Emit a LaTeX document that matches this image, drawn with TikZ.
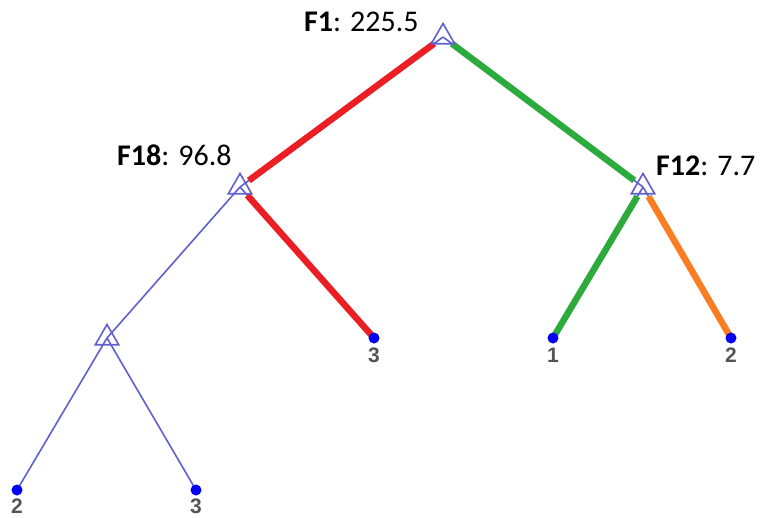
\documentclass[tikz,border=0pt]{standalone}
\usepackage{fontspec}
\setmainfont{Carlito}
\newfontfamily\leaffont{Liberation Sans}
\usetikzlibrary{shapes.geometric}
\definecolor{tblue}{RGB}{95,95,210}
\definecolor{tred}{RGB}{235,30,35}
\definecolor{tgreen}{RGB}{45,170,60}
\definecolor{torange}{RGB}{250,125,35}
\definecolor{dotblue}{RGB}{0,0,250}
\definecolor{leafgrey}{RGB}{85,85,85}
\begin{document}
\begin{tikzpicture}[x=1pt,y=-1pt,
  thin edge/.style={draw=tblue,line width=1.6pt},
  thick edge/.style={line width=6.5pt},
  split/.style={regular polygon,regular polygon sides=3,draw=tblue,line width=1.6pt,minimum size=27pt,inner sep=0pt},
  leafdot/.style={circle,fill=dotblue,minimum size=11pt,inner sep=0pt},
  leaflabel/.style={font=\leaffont\bfseries\fontsize{21}{21}\selectfont,text=leafgrey,inner sep=0pt},
  splitlabel/.style={font=\fontsize{30}{30}\selectfont,inner sep=0pt,anchor=base west}]
\useasboundingbox (0,0) rectangle (760,517);
% split node positions
\coordinate (r) at (443,37);
\coordinate (a) at (240,187);
\coordinate (b) at (643,187);
\coordinate (c) at (107,338);
% leaves
\coordinate (l3) at (374,338);
\coordinate (l1) at (553,338);
\coordinate (l2) at (731,338);
\coordinate (m2) at (17,490);
\coordinate (m3) at (196,490);
% thin edges (all, center to center)
\draw[thin edge] (r) -- (a);
\draw[thin edge] (r) -- (b);
\draw[thin edge] (a) -- (c);
\draw[thin edge] (a) -- (l3);
\draw[thin edge] (b) -- (l1);
\draw[thin edge] (b) -- (l2);
\draw[thin edge] (c) -- (m2);
\draw[thin edge] (c) -- (m3);
% thick coloured edges
\draw[thick edge,tred,shorten <=11pt,shorten >=11pt] (r) -- (a);
\draw[thick edge,tgreen,shorten <=11pt,shorten >=11pt] (r) -- (b);
\draw[thick edge,tred,shorten <=11pt] (a) -- (l3);
\draw[thick edge,tgreen,shorten <=11pt] (b) -- (l1);
\draw[thick edge,torange,shorten <=11pt] (b) -- (l2);
% split markers
\node[split] (nr) at (r) {};
\node[split] (na) at (a) {};
\node[split] (nb) at (b) {};
\node[split] (nc) at (c) {};
% leaf dots
\node[leafdot] (d3) at (l3) {};
\node[leafdot] (d1) at (l1) {};
\node[leafdot] (d2) at (l2) {};
\node[leafdot] (e2) at (m2) {};
\node[leafdot] (e3) at (m3) {};
% leaf labels
\node[leaflabel] (t3) at (374,355) {3};
\node[leaflabel] (t1) at (553,355) {1};
\node[leaflabel] (t2) at (731,355) {2};
\node[leaflabel] (u2) at (17,506) {2};
\node[leaflabel] (u3) at (196,506) {3};
% split labels
\node[splitlabel] (s1) at (304,31) {\textbf{F1}: 225.5};
\node[splitlabel] (s18) at (117,165) {\textbf{F18}: 96.8};
\node[splitlabel] (s12) at (656,175) {\textbf{F12}: 7.7};
\end{tikzpicture}
\end{document}
